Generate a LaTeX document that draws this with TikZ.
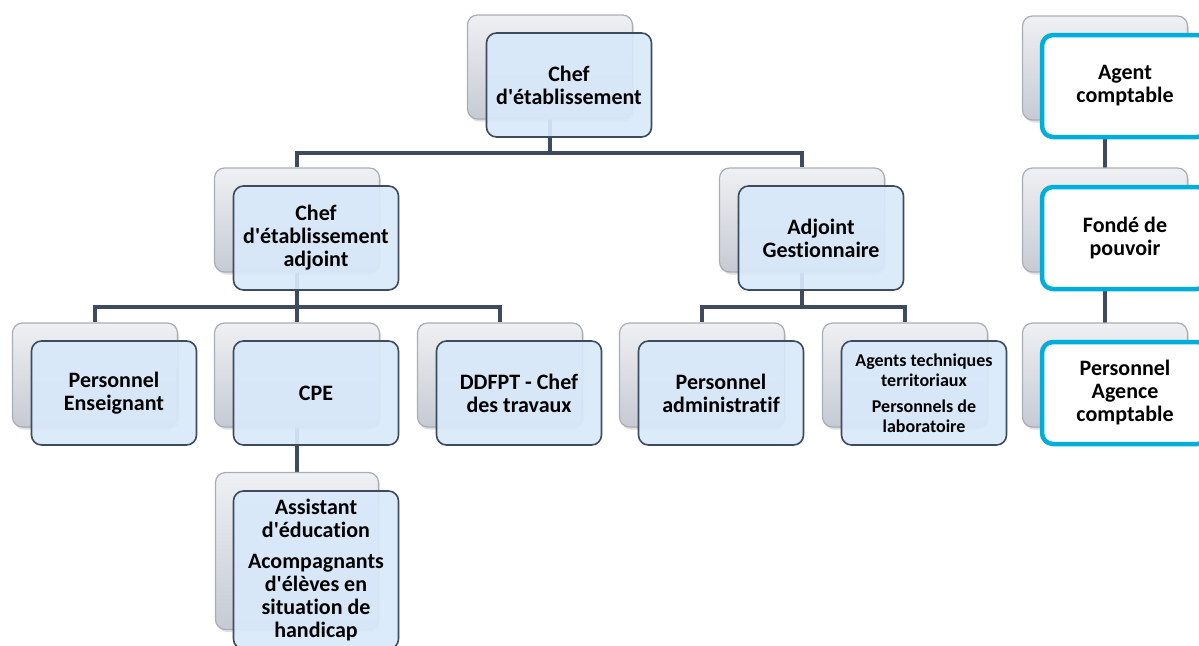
\documentclass[tikz,border=0pt]{standalone}
\usepackage{fontspec}
\setmainfont{Carlito}[Ligatures=NoCommon]
\usepackage{tikz}
\usetikzlibrary{shadows,positioning}

\pgfdeclarelayer{links}
\pgfsetlayers{links,main}

\definecolor{linkcol}{HTML}{3E4B5E}
\definecolor{frontfill}{HTML}{D9E9FA}
\definecolor{frontline}{HTML}{3D4B5E}
\definecolor{backtop}{HTML}{EFF0F3}
\definecolor{backbot}{HTML}{C6CAD3}
\definecolor{backline}{HTML}{A9ADB5}
\definecolor{cyanline}{HTML}{00AEDB}

\newcommand{\q}{\textquotesingle}

\tikzset{
  backbox/.style={draw=backline, line width=1.2pt, rounded corners=10pt,
    top color=backtop, bottom color=backbot,
    minimum width=165pt, minimum height=104pt,
    drop shadow={shadow xshift=1.5pt, shadow yshift=-2.5pt, opacity=0.25}},
  frontbox/.style={draw=frontline, line width=1.6pt, rounded corners=10pt,
    fill=frontfill, fill opacity=0.93, text opacity=1,
    minimum width=165pt, minimum height=104pt, inner sep=2pt, align=center,
    font=\bfseries\fontsize{22}{23}\selectfont},
  cyanbox/.style={draw=cyanline, line width=4.5pt, rounded corners=11pt,
    fill=white, minimum width=166pt, minimum height=102pt, align=center,
    font=\bfseries\fontsize{22}{23}\selectfont},
  link/.style={draw=linkcol, line width=4.5pt}
}

\begin{document}
\begin{tikzpicture}[x=1pt,y=-1pt]
\useasboundingbox (0,0) rectangle (1199,645);

% back cards
\node[backbox] (b-chef) at (550,67) {};
\node[backbox] (b-adj) at (297,220) {};
\node[backbox] (b-gest) at (802,220) {};
\node[backbox] (b-ens) at (95,375) {};
\node[backbox] (b-cpe) at (297,375) {};
\node[backbox] (b-ddfpt) at (500,375) {};
\node[backbox] (b-admin) at (702,375) {};
\node[backbox] (b-tech) at (905,375) {};
\node[backbox, minimum width=163pt, minimum height=157pt] (b-aed) at (297,551) {};
\node[backbox] (b-agent) at (1105,68) {};
\node[backbox] (b-fonde) at (1105,220) {};
\node[backbox] (b-pac) at (1105,375) {};

% front cards
\node[frontbox] (chef) at ([shift={(19,18)}]b-chef.center) {Chef\\d\q établissement};
\node[frontbox] (adj) at ([shift={(19,18)}]b-adj.center) {Chef\\d\q établissement\\adjoint};
\node[frontbox] (gest) at ([shift={(19,18)}]b-gest.center) {Adjoint\\Gestionnaire};
\node[frontbox] (ens) at ([shift={(19,18)}]b-ens.center) {Personnel\\Enseignant};
\node[frontbox] (cpe) at ([shift={(19,18)}]b-cpe.center) {CPE};
\node[frontbox] (ddfpt) at ([shift={(19,18)}]b-ddfpt.center) {DDFPT - Chef\\des travaux};
\node[frontbox] (admin) at ([shift={(19,18)}]b-admin.center) {Personnel\\administratif};
\node[frontbox, font=\bfseries\fontsize{18}{20}\selectfont] (tech) at ([shift={(19,18)}]b-tech.center)
  {Agents techniques\\territoriaux\\[6pt]Personnels de\\laboratoire};
\node[frontbox, minimum height=158pt] (aed) at ([shift={(19,19)}]b-aed.center)
  {Assistant\\d\q éducation\\[8pt]Acompagnants\\d\q élèves en\\situation de\\handicap};

\node[cyanbox] (agent) at ([shift={(20,18)}]b-agent.center) {Agent\\comptable};
\node[cyanbox] (fonde) at ([shift={(20,18)}]b-fonde.center) {Fondé de\\pouvoir};
\node[cyanbox] (pac) at ([shift={(20,18)}]b-pac.center) {Personnel\\Agence\\comptable};

% connectors, behind the cards
\begin{pgfonlayer}{links}
\draw[link] (b-chef.center) -- ++(0,86) -| (b-adj.north);
\draw[link] (b-chef.center) -- ++(0,86) -| (b-gest.north);
\draw[link] (b-adj.center) -- ++(0,87) -| (b-ens.north);
\draw[link] (b-adj.center) -- (b-cpe.north);
\draw[link] (b-adj.center) -- ++(0,87) -| (b-ddfpt.north);
\draw[link] (b-gest.center) -- ++(0,87) -| (b-admin.north);
\draw[link] (b-gest.center) -- ++(0,87) -| (b-tech.north);
\draw[link] (b-cpe.center) -- (b-aed.north);
\draw[link] (b-agent.center) -- (b-fonde.center);
\draw[link] (b-fonde.center) -- (b-pac.center);
\end{pgfonlayer}
\end{tikzpicture}
\end{document}
